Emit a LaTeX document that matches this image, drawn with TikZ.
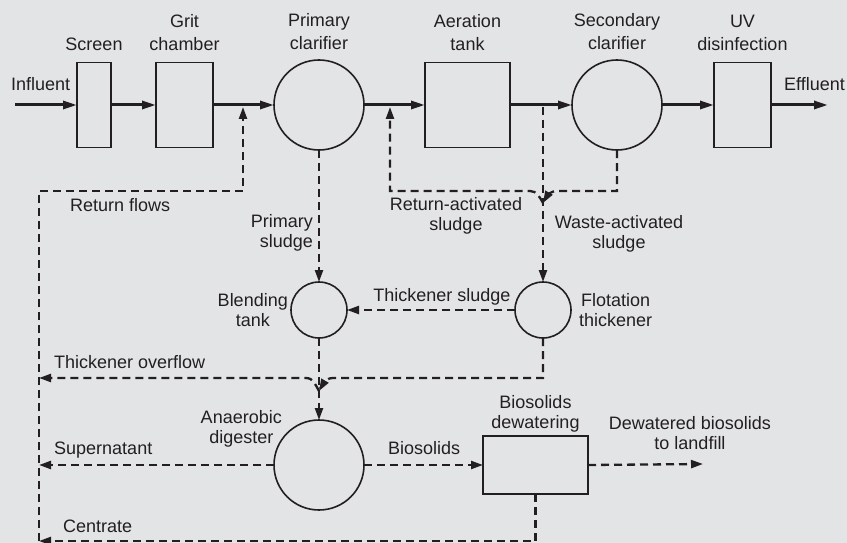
\documentclass[tikz,border=0pt]{standalone}
\usepackage{fontspec}
\setmainfont{Liberation Sans}
\usetikzlibrary{arrows.meta, positioning}
\definecolor{paper}{HTML}{E3E4E6}
\definecolor{ink}{HTML}{231F20}
\tikzset{
  unit/.style={
    rectangle, draw=ink, line width=1.6pt, outer sep=0pt,
    minimum width=#1, minimum height=85pt, inner sep=0pt
  },
  tank/.style={
    circle, draw=ink, line width=1.6pt, outer sep=0pt,
    minimum size=#1, inner sep=0pt
  },
  txt/.style={
    font=\fontsize{18}{20}\selectfont, text=ink,
    align=center, inner sep=1pt
  },
  toptxt/.style={txt, font=\fontsize{18}{23}\selectfont},
  flow/.style={-{Triangle[length=14pt, width=8pt]}, line width=3pt, draw=ink},
  sludge/.style={
    -{Triangle[length=12pt, width=8pt]}, line width=2.3pt, draw=ink,
    dash pattern=on 8pt off 5pt
  }
}

\begin{document}
\begin{tikzpicture}[x=1pt, y=-1pt]
  \fill[paper] (0,0) rectangle (847,543);
  \useasboundingbox (0,0) rectangle (847,543);

  % liquid train
  \node[unit=34pt] (screen) at (94,105) {};
  \node[unit=57pt, right=45pt of screen] (grit) {};
  \node[tank=90pt, right=61pt of grit] (prim) {};
  \node[unit=85pt, right=61pt of prim] (aer) {};
  \node[tank=90pt, right=62pt of aer] (sec) {};
  \node[unit=57pt, right=52pt of sec] (uv) {};

  % solids train
  \node[tank=56pt, below=132pt of prim] (blend) {};
  \node[tank=56pt, right=168pt of blend] (flot) {};
  \node[tank=90pt, below=82pt of blend] (dig) {};
  \node[unit=105pt, minimum height=58pt, right=119pt of dig] (dewat) {};

  \node[toptxt, above=11pt of screen] (screenlbl) {Screen};
  \node[toptxt, above=11pt of grit] (gritlbl) {Grit\\chamber};
  \node[toptxt, above=9pt of prim] (primlbl) {Primary\\clarifier};
  \node[toptxt, above=11pt of aer] (aerlbl) {Aeration\\tank};
  \node[toptxt, above=9pt of sec] (seclbl) {Secondary\\clarifier};
  \node[toptxt, above=11pt of uv] (uvlbl) {UV\\disinfection};
  \node[txt, left=2pt of blend] (blendlbl) {Blending\\tank};
  \node[txt, right=7pt of flot] (flotlbl) {Flotation\\thickener};
  \node[txt, anchor=south east] (diglbl) at (283,448) {Anaerobic\\digester};
  \node[txt, above=3pt of dewat] (dewatlbl) {Biosolids\\dewatering};

  % free ends and junctions
  \coordinate (influent) at (15,105);
  \coordinate (effluent) at (828,105);
  \coordinate (rfjoin) at (243,107);
  \coordinate (rasjoin) at (390,107);
  \coordinate (wasjoin) at (flot.north |- 0,107);
  \coordinate (rasmerge) at (flot.north |- 0,203);
  \coordinate (rasright) at (557,191);
  \coordinate (rasleft) at (530,191);
  \coordinate (tomerge) at (blend.south |- 0,391);
  \coordinate (toright) at (333,378);
  \coordinate (toleft) at (306,378);
  \coordinate (collector) at (39,191);
  \coordinate (overflow) at (39,378);
  \coordinate (cbot) at (39,541);
  \coordinate (landfill) at (703,464);

  \draw[flow] (influent) -- (screen);
  \draw[flow] (screen) -- (grit);
  \draw[flow] (grit) -- (prim);
  \draw[flow] (prim) -- (aer);
  \draw[flow] (aer) -- (sec);
  \draw[flow] (sec) -- (uv);
  \draw[flow] (uv) -- (effluent);

  % returns to the head of the plant
  \draw[sludge] (cbot) -- (collector) -| (rfjoin);
  \draw[sludge] (sec.south) |- (rasright) to[out=180, in=60] (rasmerge);
  \draw[sludge] (rasmerge) to[out=120, in=0] (rasleft) -| (rasjoin);
  \draw[sludge] (wasjoin) -- (flot.north);
  \draw[sludge] (prim.south) -- (blend.north);
  \draw[sludge] (flot.west) -- (blend.east);
  \draw[sludge] (blend.south) -- (dig.north);
  \draw[sludge] (flot.south) |- (toright) to[out=180, in=60] (tomerge);
  \draw[sludge] (tomerge) to[out=120, in=0] (toleft) -- (overflow);
  \draw[sludge] (dig.west) -- (dig.west -| collector);
  \draw[sludge] (dig.east) -- (dewat.west);
  \draw[sludge] (dewat.east) -- (landfill);
  \draw[sludge] (dewat.south) |- (cbot);

  % stream labels
  \node[txt, anchor=base west] (inlbl) at (10,91) {Influent};
  \node[txt, anchor=base west] (efflbl) at (783,91) {Effluent};
  \node[txt, anchor=base west] (rflbl) at (69,211) {Return flows};
  \node[txt, align=right, anchor=east] (pslbl) at (314,233) {Primary\\sludge};
  \node[txt] (raslbl) at (456,216) {Return-activated\\sludge};
  \node[txt] (waslbl) at (619,234) {Waste-activated\\sludge};
  \node[txt, anchor=base] (tslbl) at (442,301) {Thickener sludge};
  \node[txt, anchor=base west] (tolbl) at (53,368) {Thickener overflow};
  \node[txt, anchor=base west] (snlbl) at (53,454) {Supernatant};
  \node[txt, anchor=base west] (bslbl) at (387,454) {Biosolids};
  \node[txt] (lflbl) at (690,433) {Dewatered biosolids\\to landfill};
  \node[txt, anchor=base west] (ctlbl) at (62,532) {Centrate};
\end{tikzpicture}
\end{document}
